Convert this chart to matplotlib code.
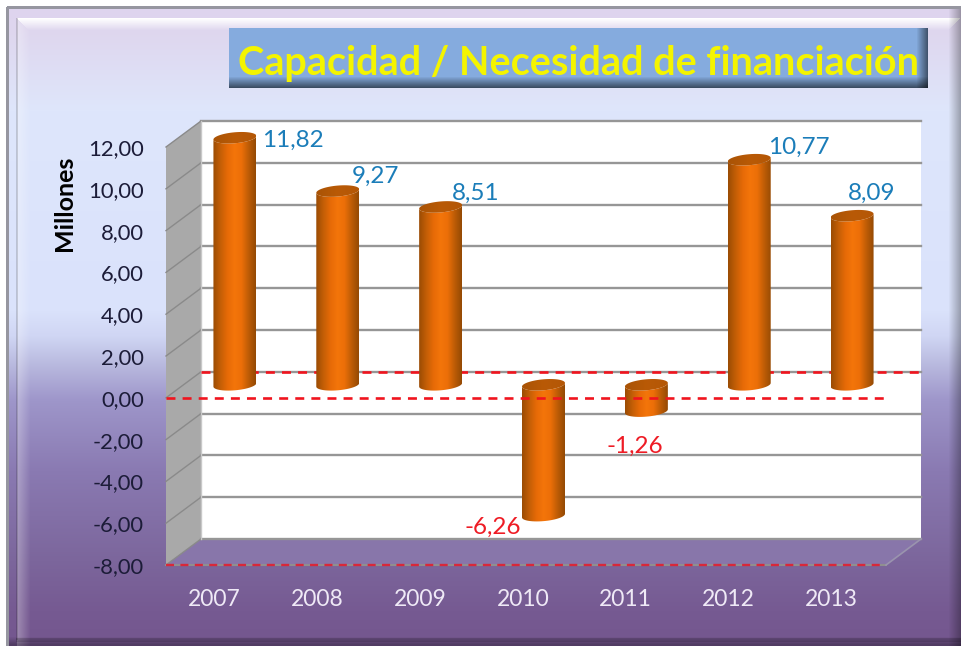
import matplotlib
matplotlib.use("Agg")
import matplotlib.pyplot as plt
import numpy as np
from matplotlib.colors import LinearSegmentedColormap
from matplotlib.patches import Polygon

plt.rcParams['font.family'] = ['Lato', 'DejaVu Sans']

years = ["2007", "2008", "2009", "2010", "2011", "2012", "2013"]
values = [11.82, 9.27, 8.51, -6.26, -1.26, 10.77, 8.09]
y_ticks = [-8, -6, -4, -2, 0, 2, 4, 6, 8, 10, 12]
title = "Capacidad / Necesidad de financiación"
y_title = "Millones"

# label offset from the top of each cylinder, in pixels
label_offsets = [(58, -3), (38, 15), (35, 14), (-51, -12), (-12, -35), (50, 12), (20, 22)]

W, H = 962, 648
fig = plt.figure(figsize=(W / 100, H / 100), dpi=100)
fig.patch.set_facecolor("white")

# background panel
bg = fig.add_axes([0, 0, 1, 1], zorder=0)
stops_y = [8, 30, 110, 310, 335, 365, 400, 470, 560, 610, 646]
stops_c = np.array([[222, 212, 238], [222, 214, 238], [222, 230, 251], [218, 226, 251],
                    [208, 214, 244], [184, 184, 222], [158, 150, 202], [138, 122, 178],
                    [124, 102, 156], [118, 90, 146], [116, 86, 142]], dtype=float)
yy = np.arange(H)
grad = np.stack([np.interp(yy, stops_y, stops_c[:, i]) for i in range(3)], axis=1)
img = np.repeat(grad[:, None, :], W, axis=1)
X, Y = np.meshgrid(np.arange(W), np.arange(H))

# bevel bands around the panel
side = np.clip((30 - X) / 13, 0, 1)[:, :, None] * 0.3
side = np.where(((X >= 17) & (Y >= 18) & (Y - 18 > X - 17))[:, :, None], side, 0)
img = img * (1 - side) + 255 * side
top = (Y >= 18) & (Y < 30) & (X - 17 >= Y - 18) & (960 - X > Y - 18)
fade = np.clip((30 - Y) / 12, 0, 1)[:, :, None]
img = np.where(top[:, :, None], img * (1 - fade) + 255 * fade, img)
shade = np.clip((X - 948) / 14, 0, 1)[:, :, None]
img = img * (1 - 0.35 * shade)
shade = np.clip((Y - 636) / 8, 0, 1)[:, :, None]
img = img * (1 - 0.3 * shade)
img[(X < 8) | (Y < 8) | (Y >= 646)] = 255
edge = (Y >= 6) & (Y < 9) & (X >= 7) | (X >= 6) & (X < 9) & (Y >= 7) & (Y < 646)
img[edge] = [150, 150, 160]
edge = (X >= 16) & (X < 18) & (Y >= 18) & (Y < 640)
img[edge] = img[edge] * 0.85
edge = (Y >= 638) & (Y < 642) & (X >= 16)
img[edge] = img[edge] * 0.85
bg.imshow(img.astype(np.uint8), extent=[0, W, H, 0], aspect="auto", interpolation="bilinear")

# title box
box = np.zeros((60, 699, 3))
box[:] = [133, 171, 222]
box_fade = np.clip((np.arange(60) - 48) / 12, 0, 1)[:, None, None]
box = box * (1 - 0.6 * box_fade)
side_fade = np.clip((np.arange(699) - 687) / 12, 0, 1)[None, :, None]
box = box * (1 - 0.55 * side_fade)
bg.imshow(box.astype(np.uint8), extent=[229, 928, 88, 28], aspect="auto")
bg.text(579, 63, title, color="#f4f400", fontsize=28.5, fontweight="bold",
        ha="center", va="center")
bg.set_xlim(0, W)
bg.set_ylim(H, 0)
bg.axis("off")

# front plane of the 3d box; the axes reach higher so the back wall and bars fit in it
y_unit = 418 / 20
y_top_lim = 15
ax_h = (y_top_lim + 8) * y_unit
ax = fig.add_axes([166 / W, 1 - 565 / H, 720 / W, ax_h / H], zorder=1)
ax.patch.set_alpha(0)
for s in ax.spines.values():
    s.set_visible(False)

# depth of the box, in axis units
dx = 35 / (720 / 7)
dy = 26 / y_unit
x0, x1 = -0.5, 6.5
y0, y1 = -8, 12

ax.add_patch(Polygon([(x0 + dx, y0 + dy), (x1 + dx, y0 + dy), (x1 + dx, y1 + dy), (x0 + dx, y1 + dy)],
                     fc="white", ec="none", zorder=1, clip_on=False))
ax.add_patch(Polygon([(x0, y0), (x0 + dx, y0 + dy), (x1 + dx, y0 + dy), (x1, y0)],
                     fc="#8876aa", ec="none", zorder=1, clip_on=False))
ax.add_patch(Polygon([(x0, y0), (x0 + dx, y0 + dy), (x0 + dx, y1 + dy), (x0, y1)],
                     fc="#a9a9a9", ec="none", zorder=1, clip_on=False))

grid_c = "#969696"
for v in y_ticks:
    ax.plot([x0 + dx, x1 + dx], [v + dy, v + dy], color=grid_c, lw=1.7, zorder=2, clip_on=False)
    ax.plot([x0, x0 + dx], [v, v + dy], color="#8a8a8a", lw=1.0, zorder=2, clip_on=False)
ax.plot([x0 + dx, x0 + dx], [y0 + dy, y1 + dy], color="#c8c8c8", lw=1, zorder=2, clip_on=False)
ax.plot([x0, x1], [y0, y0], color="#8f8f8f", lw=1.5, zorder=2, clip_on=False)
ax.plot([x1, x1 + dx], [y0, y0 + dy], color="#9a94ae", lw=1.2, zorder=2, clip_on=False)

dash = (0, (3.4, 2.7))
ax.plot([x0 + dx, x1 + dx], [dy, dy], color="#f0141e", lw=1.9, ls=dash, zorder=3, clip_on=False)
ax.plot([x0, x1], [y0, y0], color="#d8283a", lw=1.7, ls=dash, zorder=3, clip_on=False)

# cylinders
body_cmap = LinearSegmentedColormap.from_list(
    "body", ["#9a4c04", "#c35e06", "#e66a07", "#f4750a", "#ec6f08", "#bd5c06", "#944a04"])
top_cmap = LinearSegmentedColormap.from_list("top", ["#a95305", "#b95a06", "#b45706"])
ramp = np.linspace(0, 1, 128)[None, :]
half_w = 0.5 * 43 / (720 / 7)
half_h = 5.5 / y_unit
tilt = 1.8 / y_unit
t = np.linspace(0, 2 * np.pi, 61)


def rim(xc, v, angles):
    return np.column_stack([xc + half_w * np.cos(angles),
                            v + half_h * np.sin(angles) + tilt * np.cos(angles)])


for i, v in enumerate(values):
    xc = i + dx / 2
    base = dy / 2
    hi, lo = base + max(v, 0), base + min(v, 0)
    lower = np.linspace(np.pi, 2 * np.pi, 31)
    outline = np.vstack([rim(xc, hi, lower), rim(xc, lo, lower[::-1])])
    clip = Polygon(outline, closed=True, transform=ax.transData)
    body = ax.imshow(ramp, cmap=body_cmap, aspect="auto", zorder=4, interpolation="bilinear",
                     extent=[xc - half_w, xc + half_w, lo - half_h - tilt, hi + half_h + tilt])
    body.set_clip_path(clip)
    cap = ax.imshow(ramp, cmap=top_cmap, aspect="auto", zorder=4.5, interpolation="bilinear",
                    extent=[xc - half_w, xc + half_w, hi - half_h - tilt, hi + half_h + tilt])
    cap.set_clip_path(Polygon(rim(xc, hi, t), closed=True, transform=ax.transData))

    color = "#1b7db9" if v >= 0 else "#ee1c25"
    ax.annotate(f"{v:.2f}".replace(".", ","), xy=(xc, base + v), xycoords="data",
                xytext=(label_offsets[i][0] * 0.72, label_offsets[i][1] * 0.72),
                textcoords="offset points", ha="center", va="center",
                fontsize=17.5, color=color, zorder=7, annotation_clip=False)

ax.set_xlim(-0.5, 6.5)
ax.set_ylim(-8, y_top_lim)

ax.plot([x0, x1], [0, 0], color="#f0141e", lw=1.9, ls=dash, zorder=6, clip_on=False)

ax.set_yticks(y_ticks)
ax.set_yticklabels([f"{v:.2f}".replace(".", ",") for v in y_ticks], fontsize=15.8, color="#1c1c38")
ax.set_xticks(np.arange(len(years)) - 0.03)
ax.set_xticklabels(years, fontsize=16.5, color="#efe9f6")
ax.tick_params(axis="y", length=0, pad=16)
ax.tick_params(axis="x", length=0, pad=17)

fig.text(65 / W, 1 - 203 / H, y_title, rotation=90, fontsize=18, fontweight="bold",
         color="black", ha="center", va="center")

fig.savefig("out.png", dpi=100)
